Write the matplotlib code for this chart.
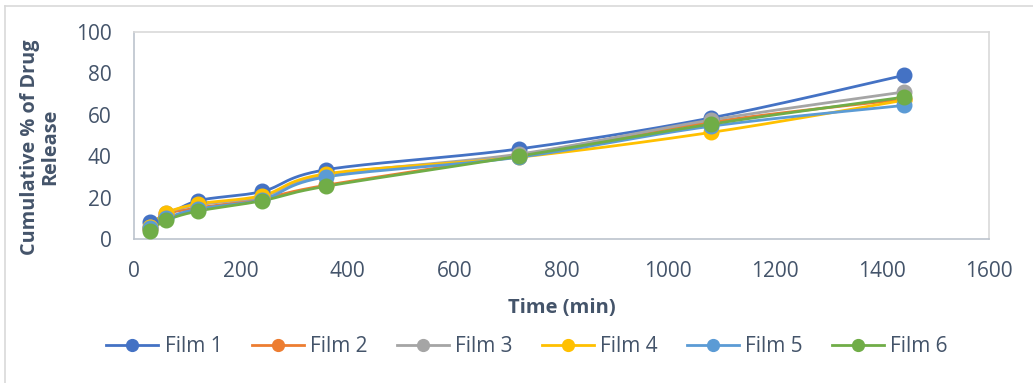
import numpy as np
import matplotlib
matplotlib.use('Agg')
import matplotlib.pyplot as plt
from matplotlib.lines import Line2D

# sampling times (min)
times = [30, 60, 120, 240, 360, 720, 1080, 1440]

# cumulative % drug release
film1 = [8.0, 11.0, 18.5, 23.0, 33.5, 43.5, 58.5, 79.0]
film2 = [5.0, 12.0, 15.0, 19.5, 26.0, 40.5, 56.5, 67.5]
film3 = [6.0, 12.5, 16.5, 20.5, 31.0, 41.0, 57.5, 71.0]
film4 = [6.0, 12.5, 17.0, 21.0, 31.5, 39.5, 51.5, 67.0]
film5 = [5.5, 10.0, 14.5, 19.0, 30.0, 39.5, 54.5, 64.5]
film6 = [4.0, 9.0, 13.5, 18.5, 25.5, 40.0, 55.5, 68.5]

names = ['Film 1', 'Film 2', 'Film 3', 'Film 4', 'Film 5', 'Film 6']
series = [film1, film2, film3, film4, film5, film6]
colors = ['#4472C4', '#ED7D31', '#A5A5A5', '#FFC000', '#5B9BD5', '#70AD47']

txt = '#44546A'
plt.rcParams['font.family'] = ['Open Sans', 'DejaVu Sans']


def smooth(x, y, sx, sy, n=30):
    # Excel-style smoothed line: cubic Bezier through the points
    p = np.column_stack([np.asarray(x) * sx, np.asarray(y) * sy])
    out = [p[0]]
    for i in range(len(p) - 1):
        p0 = p[i - 1] if i > 0 else p[i]
        p3 = p[i + 2] if i + 2 < len(p) else p[i + 1]
        c1 = p[i] + (p[i + 1] - p0) / 6.0
        c2 = p[i + 1] - (p3 - p[i]) / 6.0
        t = np.linspace(0, 1, n)[1:, None]
        b = ((1 - t) ** 3 * p[i] + 3 * (1 - t) ** 2 * t * c1
             + 3 * (1 - t) * t ** 2 * c2 + t ** 3 * p[i + 1])
        out.extend(b)
    out = np.array(out)
    return out[:, 0] / sx, out[:, 1] / sy


fig = plt.figure(figsize=(10.33, 3.83), dpi=100)
ax = fig.add_axes([134 / 1033, 1 - 239 / 383, 855 / 1033, 207 / 383])

sx, sy = 855 / 1600.0, 207 / 100.0
for name, vals, c in zip(names, series, colors):
    xs, ys = smooth(times, vals, sx, sy)
    ax.plot(xs, ys, color=c, lw=2.0, solid_capstyle='round', zorder=2)
    ax.plot(times, vals, 'o', color=c, ms=10.5, zorder=3)

ax.set_xlim(0, 1600)
ax.set_ylim(0, 100)
ax.set_xticks(range(0, 1601, 200))
ax.set_yticks(range(0, 101, 20))
ax.tick_params(length=0, labelsize=15, colors=txt)
ax.tick_params(axis='y', pad=16)
ax.tick_params(axis='x', pad=16)
for s in ['left', 'bottom']:
    ax.spines[s].set_color('#BCC3CD')
    ax.spines[s].set_linewidth(1.2)
for s in ['top', 'right']:
    ax.spines[s].set_color('#D9D9D9')
    ax.spines[s].set_linewidth(1.2)

fig.text(40 / 1033, 1 - 147 / 383, 'Cumulative % of Drug\nRelease', rotation=90,
         ha='center', va='center', fontsize=14.3, fontweight='bold', color=txt,
         linespacing=1.05)
fig.text(562 / 1033, 1 - 308 / 383, 'Time (min)', ha='center', va='center',
         fontsize=14.5, fontweight='bold', color=txt)

handles = [Line2D([], [], color=c, lw=2.0, marker='o', ms=8.5) for c in colors]
leg = fig.legend(handles, names, loc='center', ncol=6,
                 bbox_to_anchor=(527 / 1033, 1 - 347 / 383), frameon=False,
                 fontsize=15, handlelength=2.5, handletextpad=0.3,
                 columnspacing=1.4, labelcolor=txt)

# chart area border (only top and left edges show)
fig.add_artist(Line2D([5 / 1033, 1], [1 - 6 / 383, 1 - 6 / 383],
                      color='#D9D9D9', lw=1.2))
fig.add_artist(Line2D([5 / 1033, 5 / 1033], [0, 1 - 6 / 383],
                      color='#D9D9D9', lw=1.2))

fig.savefig('out.png', dpi=100)
